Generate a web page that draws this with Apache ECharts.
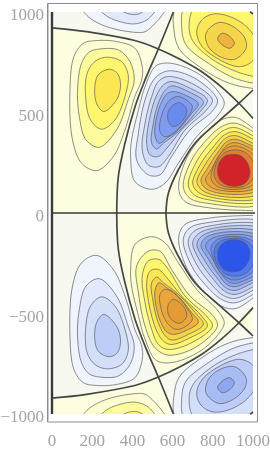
<!DOCTYPE html>
<html><head><meta charset="utf-8">
<style>html,body{margin:0;padding:0;background:#fff}#c{width:270px;height:450px}</style>
<script src="https://cdn.jsdelivr.net/npm/echarts@6/dist/echarts.min.js"></script>
</head><body><div id="c"></div>
<script>
const xTicks=[0,200,400,600,800,1000];
const yTicks=[-1000,-500,0,500,1000];
const posColors=['#fdfdd2','#fefb9a','#fff66e','#fbe653','#f5d64a','#efb23d','#eaa63a','#e49a35','#e07f30','#d2232a'];
const negColors=['#f0f4fd','#e2e9fc','#d3def9','#bdcdf7','#a8bcf4','#8ca7f0','#7e9bef','#6a8bee','#507aed','#2c55ea'];
// zero contours (upper half; lower half is their mirror)
const arcLine=[[0,921],[172,902],[412,858],[529,816],[637,765],[745,703],[844,626],[930,546],[1000,471]];
const midLine=[[604,1000],[529,816],[463,662],[413,529],[363,347],[330,181],[322,0]];
const curveLine=[[1000,612],[930,546],[827,455],[711,347],[628,214],[579,98],[567,0]];
const cornerLine=[[985,1002],[1000,990]];
// sign regions in the upper half
const regionLeft=[[0,0],[0,921],[172,902],[412,858],[529,816],[463,662],[413,529],[363,347],[330,181],[322,0]];
const regionTopRight=[[604,1000],[529,816],[637,765],[745,703],[844,626],[930,546],[1000,612],[1000,1000]];
const regionRight=[[567,0],[579,98],[628,214],[711,347],[827,455],[930,546],[1000,471],[1000,0]];
const regionMiddle=[[322,0],[330,181],[363,347],[413,529],[463,662],[529,816],[637,765],[745,703],[844,626],[930,546],[827,455],[711,347],[628,214],[579,98],[567,0]];
const regionTop=[[0,1000],[0,921],[172,902],[412,858],[529,816],[604,1000]];
const regionNotch=[[930,546],[1000,612],[1000,471]];
// level contours
const lobeA=[
[[222,858],[321,853],[412,820],[449,728],[446,662],[412,579],[363,413],[305,281],[222,211],[147,248],[102,364],[89,596],[109,778],[156,844]],
[[238,816],[330,811],[388,753],[409,662],[379,563],[321,413],[235,327],[169,364],[136,480],[127,612],[147,745],[185,800]],
[[272,775],[346,753],[379,687],[363,579],[313,463],[247,417],[192,463],[167,579],[175,695],[213,753]],
[[285,715],[325,695],[341,637],[321,563],[258,505],[225,538],[212,612],[230,687]]];
const lobeB=[
[[554,745],[629,737],[745,682],[827,604],[857,546],[827,488],[720,380],[629,248],[562,148],[496,118],[413,156],[391,281],[396,364],[426,496],[463,629],[512,728]],
[[579,707],[711,670],[823,563],[803,513],[687,413],[595,281],[537,190],[479,190],[421,264],[430,397],[463,563],[512,670]],
[[579,679],[695,645],[798,563],[769,513],[662,413],[579,281],[532,231],[479,239],[449,314],[463,447],[496,579],[529,654]],
[[592,654],[687,621],[773,563],[745,513],[653,422],[571,322],[529,281],[488,289],[471,347],[488,480],[521,587],[554,637]],
[[595,632],[678,604],[753,554],[720,505],[629,405],[554,347],[521,319],[496,347],[504,447],[529,546],[562,609]],
[[604,604],[662,587],[728,543],[695,496],[620,405],[571,372],[532,347],[512,388],[521,480],[546,554],[571,592]],
[[620,579],[662,566],[698,529],[670,471],[604,397],[562,380],[537,405],[546,488],[579,554]],
[[637,548],[670,513],[653,463],[604,430],[579,455],[579,505],[604,538]]];
const lobeC=[
[[620,1027],[609,894],[637,811],[745,720],[861,654],[960,626],[1043,626],[1126,762],[1126,1093],[910,1126]],
[[662,1027],[645,927],[667,836],[778,745],[902,673],[1010,645],[1076,640],[1126,762],[1126,1093],[910,1126]],
[[711,1027],[682,927],[703,852],[803,761],[919,703],[1010,678],[1076,670],[1126,762],[1126,1093],[910,1126]],
[[803,990],[745,960],[720,902],[745,831],[836,761],[935,728],[1002,761],[1021,844],[968,927],[885,977]],
[[827,947],[902,927],[960,869],[965,819],[910,765],[836,778],[778,828],[766,894]],
[[847,894],[885,878],[907,844],[885,820],[847,836],[824,869]]];
const lobeD=[
[[910,476],[836,460],[753,388],[670,272],[630,123],[662,57],[794,24],[1000,12],[1093,15],[1109,231],[1076,347],[1000,422]],
[[910,447],[844,430],[769,364],[695,264],[653,132],[687,73],[803,44],[1000,32],[1093,65],[1109,231],[1076,347],[1000,405]],
[[910,425],[852,410],[786,347],[715,248],[678,140],[708,90],[811,60],[1000,49],[1093,82],[1109,231],[1076,330],[1000,384]],
[[910,405],[857,388],[803,330],[736,239],[700,148],[728,103],[819,73],[1000,65],[1084,98],[1101,231],[1068,322],[1000,367]],
[[910,385],[864,372],[816,317],[756,231],[721,156],[745,115],[828,85],[993,82],[1076,115],[1093,231],[1060,314],[993,350]],
[[910,367],[869,355],[828,306],[774,223],[741,161],[764,123],[836,98],[985,98],[1060,132],[1076,231],[1043,306],[985,339]],
[[910,350],[874,339],[836,294],[791,214],[764,165],[786,132],[844,112],[977,112],[1043,148],[1051,231],[1026,297],[977,327]],
[[907,334],[869,322],[828,281],[798,214],[791,173],[811,140],[861,120],[960,123],[1018,156],[1030,231],[1002,289],[960,319]],
[[907,314],[861,301],[828,267],[808,214],[808,181],[828,148],[877,128],[952,132],[997,165],[1010,223],[985,281],[952,306]],
[[905,292],[861,284],[831,248],[824,206],[836,165],[877,137],[927,135],[968,156],[985,206],[968,256],[940,284]]];
const lobeE=[
[[139,1043],[180,977],[272,927],[412,899],[463,902],[521,952],[566,1010],[595,1060]],
[[222,1035],[272,980],[338,952],[412,941],[471,960],[512,1002],[529,1035]],
[[330,1019],[371,994],[412,987],[446,997],[471,1027]]];

const flip=pts=>pts.map(p=>[p[0],-p[1]]);
const shapes=[];
const PALE='#fdfde0';
[regionLeft,regionTopRight,regionRight].forEach(r=>shapes.push({pts:r,fill:PALE,region:true}));
[regionMiddle,regionTop,regionNotch].forEach(r=>shapes.push({pts:flip(r),fill:PALE,region:true}));
function addLobe(lobe,upperPositive){
  lobe.forEach((pts,i)=>shapes.push({pts,fill:(upperPositive?posColors:negColors)[i]}));
  lobe.forEach((pts,i)=>shapes.push({pts:flip(pts),fill:(upperPositive?negColors:posColors)[i]}));
}
addLobe(lobeA,true);addLobe(lobeB,false);addLobe(lobeC,true);addLobe(lobeD,true);addLobe(lobeE,false);

// closed centripetal Catmull-Rom through a contour's read points (curve drawing only)
function closedCurve(P){
  const n=P.length,out=[];
  const lerp=(a,b,ta,tb,t)=>tb===ta?a:[a[0]+(b[0]-a[0])*(t-ta)/(tb-ta),a[1]+(b[1]-a[1])*(t-ta)/(tb-ta)];
  const step=(a,b)=>Math.sqrt(Math.hypot(b[0]-a[0],b[1]-a[1]))||1e-3;
  for(let i=0;i<n;i++){
    const p0=P[(i-1+n)%n],p1=P[i],p2=P[(i+1)%n],p3=P[(i+2)%n];
    const t0=0,t1=t0+step(p0,p1),t2=t1+step(p1,p2),t3=t2+step(p2,p3);
    for(let k=0;k<10;k++){
      const t=t1+(t2-t1)*k/10;
      const a1=lerp(p0,p1,t0,t1,t),a2=lerp(p1,p2,t1,t2,t),a3=lerp(p2,p3,t2,t3,t);
      const b1=lerp(a1,a2,t0,t2,t),b2=lerp(a2,a3,t1,t3,t);
      out.push(lerp(b1,b2,t1,t2,t));
    }
  }
  return out;
}

function nodal(pts){return {type:'line',data:pts,smooth:0.35,symbol:'none',clip:true,z:5,silent:true,
  lineStyle:{color:'#444744',width:1.7},animation:false};}
function straight(pts,w){return {type:'line',data:pts,symbol:'none',clip:false,z:6,silent:true,
  lineStyle:{color:'#3a3a3a',width:w},animation:false};}
const axisY0=[[-20,0],[1020,0]];
const axisX0=[[0,1000],[0,-1000]];

const chart=echarts.init(document.getElementById('c'),null,{renderer:'canvas'});
chart.setOption({
  animation:false,
  backgroundColor:'#fff',
  grid:{left:52,right:17,top:12,bottom:36,show:true,backgroundColor:'#f7f8ef',borderWidth:0,outerBoundsMode:'none'},
  graphic:[{type:'rect',z:-1,shape:{x:47.5,y:3.5,width:210,height:418.5},style:{fill:'none',stroke:'#8c8c8c',lineWidth:1}},
           {type:'line',z:-1,shape:{x1:48.5,y1:4,x2:48.5,y2:422},style:{stroke:'#c8c8c8',lineWidth:1}}],
  xAxis:{type:'value',min:0,max:1000,interval:200,axisLine:{show:false},axisTick:{show:false},splitLine:{show:false},
    axisLabel:{show:true,margin:19,fontFamily:'Liberation Serif',fontSize:17,color:'#a3a3a3',hideOverlap:false,
      formatter:v=>xTicks.includes(v)?String(v):''}},
  yAxis:{type:'value',min:-1000,max:1000,interval:500,axisLine:{show:false},axisTick:{show:false},splitLine:{show:false},
    axisLabel:{show:true,margin:8,verticalAlign:'top',lineHeight:8,fontFamily:'Liberation Serif',fontSize:17,color:'#a3a3a3',
      formatter:v=>yTicks.includes(v)?(v<0?'\u2212'+Math.abs(v):String(v)):''}},
  series:[
    {type:'custom',clip:true,silent:true,z:2,data:shapes.map((s,i)=>[i,0]),
     renderItem:function(params,api){
       const s=shapes[params.dataIndex];
       const pts=s.pts.map(p=>api.coord(p));
       return {type:'polygon',shape:{points:s.region?pts:closedCurve(pts)},
         style:s.region?{fill:s.fill}:{fill:s.fill,stroke:'#5a5a5a',lineWidth:0.7}};
     }},
    nodal(arcLine),nodal(flip(arcLine)),nodal(midLine),nodal(flip(midLine)),nodal(curveLine),nodal(flip(curveLine)),
    nodal(cornerLine),nodal(flip(cornerLine)),
    straight(axisY0,1.6),straight(axisX0,2.4)
  ]
});
</script></body></html>
